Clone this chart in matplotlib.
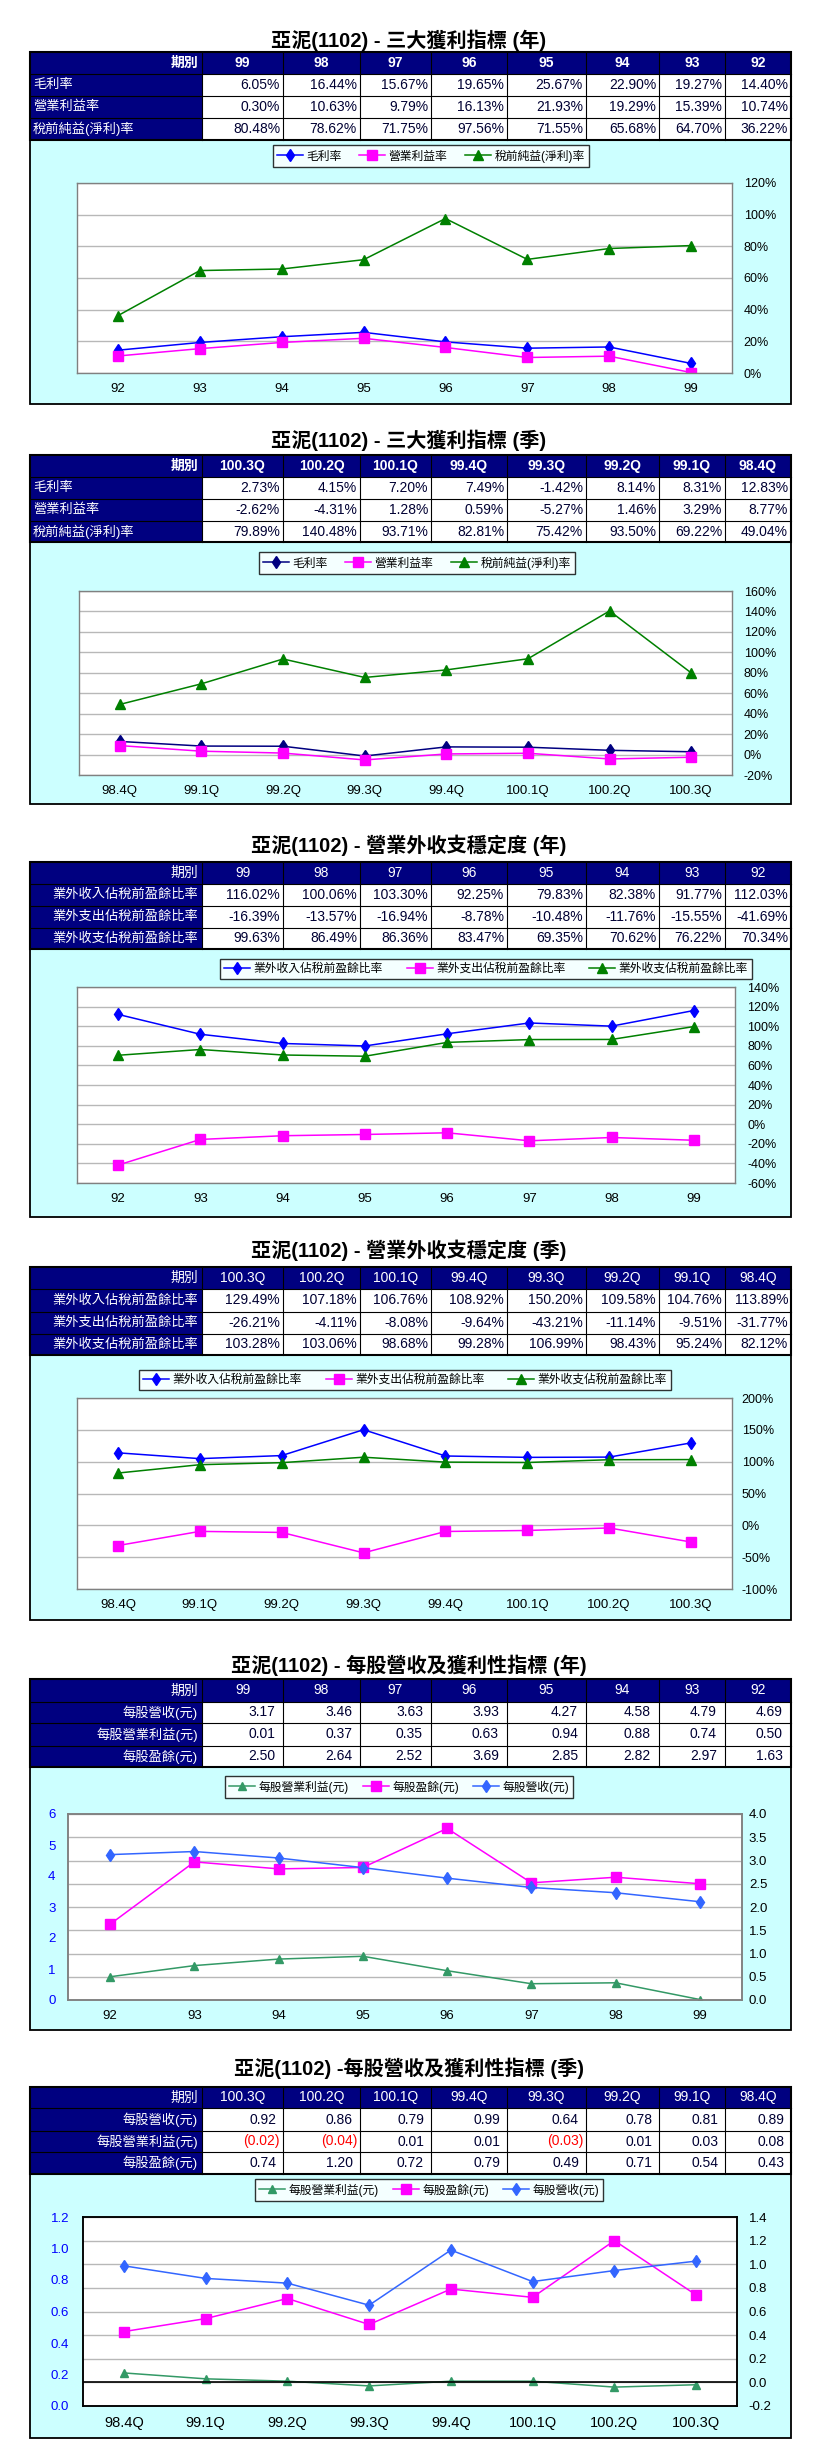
import numpy as np
import matplotlib
matplotlib.use('Agg')
import matplotlib.pyplot as plt
from matplotlib.patches import Rectangle

plt.rcParams['font.family'] = ['Liberation Sans', 'Noto Sans CJK TC', 'DejaVu Sans']
plt.rcParams['axes.unicode_minus'] = False

# ---------------- data (table order: newest first) ----------------
years = ['99', '98', '97', '96', '95', '94', '93', '92']
quarters = ['100.3Q', '100.2Q', '100.1Q', '99.4Q', '99.3Q', '99.2Q', '99.1Q', '98.4Q']

# 三大獲利指標 (年)
y_gross = [6.05, 16.44, 15.67, 19.65, 25.67, 22.90, 19.27, 14.40]
y_oper = [0.30, 10.63, 9.79, 16.13, 21.93, 19.29, 15.39, 10.74]
y_pretax = [80.48, 78.62, 71.75, 97.56, 71.55, 65.68, 64.70, 36.22]
# 三大獲利指標 (季)
q_gross = [2.73, 4.15, 7.20, 7.49, -1.42, 8.14, 8.31, 12.83]
q_oper = [-2.62, -4.31, 1.28, 0.59, -5.27, 1.46, 3.29, 8.77]
q_pretax = [79.89, 140.48, 93.71, 82.81, 75.42, 93.50, 69.22, 49.04]
# 營業外收支穩定度 (年)
y_nonin = [116.02, 100.06, 103.30, 92.25, 79.83, 82.38, 91.77, 112.03]
y_nonout = [-16.39, -13.57, -16.94, -8.78, -10.48, -11.76, -15.55, -41.69]
y_nonnet = [99.63, 86.49, 86.36, 83.47, 69.35, 70.62, 76.22, 70.34]
# 營業外收支穩定度 (季)
q_nonin = [129.49, 107.18, 106.76, 108.92, 150.20, 109.58, 104.76, 113.89]
q_nonout = [-26.21, -4.11, -8.08, -9.64, -43.21, -11.14, -9.51, -31.77]
q_nonnet = [103.28, 103.06, 98.68, 99.28, 106.99, 98.43, 95.24, 82.12]
# 每股營收及獲利性指標 (年)
y_rev = [3.17, 3.46, 3.63, 3.93, 4.27, 4.58, 4.79, 4.69]
y_opeps = [0.01, 0.37, 0.35, 0.63, 0.94, 0.88, 0.74, 0.50]
y_eps = [2.50, 2.64, 2.52, 3.69, 2.85, 2.82, 2.97, 1.63]
# 每股營收及獲利性指標 (季)
q_rev = [0.92, 0.86, 0.79, 0.99, 0.64, 0.78, 0.81, 0.89]
q_opeps = [-0.02, -0.04, 0.01, 0.01, -0.03, 0.01, 0.03, 0.08]
q_eps = [0.74, 1.20, 0.72, 0.79, 0.49, 0.71, 0.54, 0.43]

lab_profit = ['毛利率', '營業利益率', '稅前純益(淨利)率']
lab_non = ['業外收入佔稅前盈餘比率', '業外支出佔稅前盈餘比率', '業外收支佔稅前盈餘比率']
lab_eps = ['每股營收(元)', '每股營業利益(元)', '每股盈餘(元)']
lab_eps_leg = ['每股營業利益(元)', '每股盈餘(元)', '每股營收(元)']

# ---------------- layout ----------------
W, H = 818, 2461
fig = plt.figure(figsize=(W / 100, H / 100), dpi=100)
bg = fig.add_axes([0, 0, 1, 1])
bg.set_xlim(0, W)
bg.set_ylim(H, 0)
bg.axis('off')

COLS = [30, 202, 283, 360, 431, 507, 586, 659, 725, 791]
NAVY = '#000080'
CYAN = '#CCFFFF'
TXT = '#000033'


def rect(x0, x1, y0, y1):
    return [x0 / W, 1 - y1 / H, (x1 - x0) / W, (y1 - y0) / H]


def draw_table(title, ty, rows_y, periods, labels, texts, bold_head, left_labels, pad=3, colors=None):
    bg.text(W / 2, ty, title, ha='center', va='center', fontsize=14.5, fontweight='bold', color='black')
    x0, x1 = COLS[0], COLS[-1]
    bg.add_patch(Rectangle((x0, rows_y[0]), x1 - x0, rows_y[1] - rows_y[0], facecolor=NAVY, edgecolor='none'))
    bg.add_patch(Rectangle((x0, rows_y[1]), COLS[1] - x0, rows_y[-1] - rows_y[1], facecolor=NAVY, edgecolor='none'))
    bg.add_patch(Rectangle((COLS[1], rows_y[1]), x1 - COLS[1], rows_y[-1] - rows_y[1], facecolor='white', edgecolor='none'))
    for yy in rows_y[1:-1]:
        bg.plot([x0, x1], [yy, yy], color='black', lw=0.8)
    for xx in COLS[1:-1]:
        bg.plot([xx, xx], [rows_y[0], rows_y[-1]], color='black', lw=0.8)
    bg.add_patch(Rectangle((x0, rows_y[0]), x1 - x0, rows_y[-1] - rows_y[0], facecolor='none', edgecolor='black', lw=1.5))
    fw = 'bold' if bold_head else 'normal'
    hy = (rows_y[0] + rows_y[1]) / 2
    bg.text(COLS[1] - 4, hy, '期別', ha='right', va='center', color='white', fontsize=10, fontweight=fw)
    for i, p in enumerate(periods):
        bg.text((COLS[i + 1] + COLS[i + 2]) / 2, hy, p, ha='center', va='center', color='white',
                fontsize=10, fontweight=fw)
    for r, lab in enumerate(labels):
        cy = (rows_y[r + 1] + rows_y[r + 2]) / 2
        if left_labels:
            bg.text(x0 + 3, cy, lab, ha='left', va='center', color='white', fontsize=9.5)
        else:
            bg.text(COLS[1] - 4, cy, lab, ha='right', va='center', color='white', fontsize=9.5)
        for i, t in enumerate(texts[r]):
            c = TXT if colors is None else colors[r][i]
            pp = pad if not isinstance(pad, list) else pad[r][i]
            bg.text(COLS[i + 2] - pp, cy, t, ha='right', va='center', color=c, fontsize=10)


def panel(y0, y1):
    bg.add_patch(Rectangle((COLS[0], y0), COLS[-1] - COLS[0], y1 - y0, facecolor=CYAN, edgecolor='black', lw=1.3))


def legend(ax, handles, labels, cx, cy, colsp=1.5):
    leg = ax.legend(handles, labels, loc='center', bbox_to_anchor=(cx / W, 1 - cy / H),
                    bbox_transform=fig.transFigure, ncol=3, frameon=True, fancybox=False,
                    edgecolor='black', fontsize=8.5, handlelength=2.2, handletextpad=0.3,
                    columnspacing=colsp, borderpad=0.35, borderaxespad=0)
    leg.get_frame().set_linewidth(1.0)
    return leg


def pct_chart(r, cats, series, ylim, step, rpad, leg_c, colsp=1.5):
    ax = fig.add_axes(rect(*r))
    x = np.arange(len(cats))
    hs = []
    for vals, color, marker, ms, lab in series:
        h, = ax.plot(x, vals, color=color, marker=marker, markersize=ms, lw=1.1, label=lab,
                     markeredgecolor=color)
        hs.append(h)
    ax.set_xlim(-0.5, len(cats) - 0.5)
    ax.set_ylim(*ylim)
    ax.set_yticks(np.arange(ylim[0], ylim[1] + step / 2, step))
    ax.yaxis.tick_right()
    ax.yaxis.set_major_formatter(plt.FuncFormatter(lambda v, p: f'{v:.0f}%'))
    ax.set_xticks(x)
    ax.set_xticklabels(cats)
    ax.grid(axis='y', color='#B8B8B8', lw=1)
    ax.set_axisbelow(True)
    ax.tick_params(axis='y', length=0, labelsize=9, pad=rpad)
    ax.tick_params(axis='x', length=0, labelsize=9.5, pad=7)
    for s in ax.spines.values():
        s.set_color('#808080')
        s.set_linewidth(1)
    legend(ax, hs, [s[4] for s in series], leg_c[0], leg_c[1], colsp)
    return ax


def eps_chart(r, cats, rev, opeps, eps, lylim, lstep, rylim, rstep, lfmt, lpad, rpad, leg_c,
              border, zero_line=False, xsize=9.5):
    ax = fig.add_axes(rect(*r))
    ax2 = ax.twinx()
    ax.set_zorder(ax2.get_zorder() + 1)
    ax.patch.set_visible(False)
    ax2.patch.set_visible(True)
    ax2.patch.set_facecolor('white')
    x = np.arange(len(cats))
    h1, = ax2.plot(x, opeps, color='#339966', marker='^', markersize=6, lw=1.1, markeredgecolor='#339966')
    h2, = ax2.plot(x, eps, color='#FF00FF', marker='s', markersize=6.5, lw=1.1, markeredgecolor='#FF00FF')
    h3, = ax.plot(x, rev, color='#3366FF', marker='d', markersize=6.5, lw=1.1, markeredgecolor='#3366FF')
    ax.set_xlim(-0.5, len(cats) - 0.5)
    ax.set_ylim(*lylim)
    ax.set_yticks(np.arange(lylim[0], lylim[1] + lstep / 2, lstep))
    ax.yaxis.set_major_formatter(plt.FuncFormatter(lambda v, p: lfmt.format(v)))
    ax2.set_ylim(*rylim)
    ax2.set_yticks(np.arange(rylim[0], rylim[1] + rstep / 2, rstep))
    ax2.yaxis.set_major_formatter(plt.FuncFormatter(lambda v, p: f'{v:.1f}'))
    ax2.grid(axis='y', color='#B8B8B8', lw=1)
    ax2.set_axisbelow(True)
    if zero_line:
        ax2.axhline(0, color='black', lw=1.2)
    ax.set_xticks(x)
    ax.set_xticklabels(cats)
    ax.tick_params(axis='y', length=0, labelsize=9.5, pad=lpad, labelcolor='#0000FF')
    ax2.tick_params(axis='y', length=0, labelsize=9.5, pad=rpad)
    ax.tick_params(axis='x', length=0, labelsize=xsize, pad=7)
    for a in (ax, ax2):
        for s in a.spines.values():
            s.set_color(border)
            s.set_linewidth(1.1)
    legend(ax, [h1, h2, h3], lab_eps_leg, leg_c[0], leg_c[1], 1.2)
    return ax


def pct_texts(*rows):
    return [[f'{v:.2f}%' for v in row] for row in rows]


# ---------------- Section 1: 三大獲利指標 (年) ----------------
panel(140, 404)
draw_table('亞泥(1102) - 三大獲利指標 (年)', 40, [52, 74, 96, 118, 140], years, lab_profit,
           pct_texts(y_gross, y_oper, y_pretax), True, True)
pct_chart((77, 732, 183, 373), years[::-1],
          [(y_gross[::-1], '#0000FF', 'd', 6.5, lab_profit[0]),
           (y_oper[::-1], '#FF00FF', 's', 6.5, lab_profit[1]),
           (y_pretax[::-1], '#008000', '^', 6.5, lab_profit[2])],
          (0, 120), 20, 8.5, (431, 156))

# ---------------- Section 2: 三大獲利指標 (季) ----------------
panel(542, 804)
draw_table('亞泥(1102) - 三大獲利指標 (季)', 440, [455, 477, 499, 521, 542], quarters, lab_profit,
           pct_texts(q_gross, q_oper, q_pretax), True, True)
pct_chart((79, 732, 591, 775), quarters[::-1],
          [(q_gross[::-1], '#000080', 'd', 6, lab_profit[0]),
           (q_oper[::-1], '#FF00FF', 's', 6.5, lab_profit[1]),
           (q_pretax[::-1], '#008000', '^', 6.5, lab_profit[2])],
          (-20, 160), 20, 8.5, (417, 563))

# ---------------- Section 3: 營業外收支穩定度 (年) ----------------
panel(949, 1217)
draw_table('亞泥(1102) - 營業外收支穩定度 (年)', 845, [862, 884, 906, 928, 949], years, lab_non,
           pct_texts(y_nonin, y_nonout, y_nonnet), False, False)
pct_chart((77, 735, 987, 1183), years[::-1],
          [(y_nonin[::-1], '#0000FF', 'd', 6.5, lab_non[0]),
           (y_nonout[::-1], '#FF00FF', 's', 6.5, lab_non[1]),
           (y_nonnet[::-1], '#008000', '^', 6.5, lab_non[2])],
          (-60, 140), 20, 9, (486, 969), 2.0)

# ---------------- Section 4: 營業外收支穩定度 (季) ----------------
panel(1355, 1620)
draw_table('亞泥(1102) - 營業外收支穩定度 (季)', 1250, [1267, 1289, 1312, 1334, 1355], quarters, lab_non,
           pct_texts(q_nonin, q_nonout, q_nonnet), False, False)
pct_chart((77, 732, 1398, 1589), quarters[::-1],
          [(q_nonin[::-1], '#0000FF', 'd', 6.5, lab_non[0]),
           (q_nonout[::-1], '#FF00FF', 's', 6.5, lab_non[1]),
           (q_nonnet[::-1], '#008000', '^', 6.5, lab_non[2])],
          (-100, 200), 50, 7, (405, 1380), 2.0)

# ---------------- Section 5: 每股營收及獲利性指標 (年) ----------------
panel(1767, 2030)
draw_table('亞泥(1102) - 每股營收及獲利性指標 (年)', 1665, [1679, 1702, 1723, 1746, 1767], years, lab_eps,
           [[f'{v:.2f}' for v in row] for row in (y_rev, y_opeps, y_eps)], False, False, pad=8)
eps_chart((68, 742, 1814, 2000), years[::-1], y_rev[::-1], y_opeps[::-1], y_eps[::-1],
          (0, 6), 1, (0, 4), 0.5, '{:.0f}', 9, 5, (399, 1787), '#808080')

# ---------------- Section 6: 每股營收及獲利性指標 (季) ----------------
panel(2174, 2438)
q_texts, q_cols, q_pads = [], [], []
for row in (q_rev, q_opeps, q_eps):
    q_texts.append([f'({abs(v):.2f})' if v < 0 else f'{v:.2f}' for v in row])
    q_cols.append(['#FF0000' if v < 0 else TXT for v in row])
    q_pads.append([3 if v < 0 else 7 for v in row])
draw_table('亞泥(1102) -每股營收及獲利性指標 (季)', 2068, [2087, 2108, 2131, 2152, 2174], quarters, lab_eps,
           q_texts, False, False, pad=q_pads, colors=q_cols)
eps_chart((83, 737, 2217, 2406), quarters[::-1], q_rev[::-1], q_opeps[::-1], q_eps[::-1],
          (0, 1.2), 0.2, (-0.2, 1.4), 0.2, '{:.1f}', 10, 8.5, (429, 2190), 'black', zero_line=True,
          xsize=10.5)

fig.savefig('out.png', dpi=100)
